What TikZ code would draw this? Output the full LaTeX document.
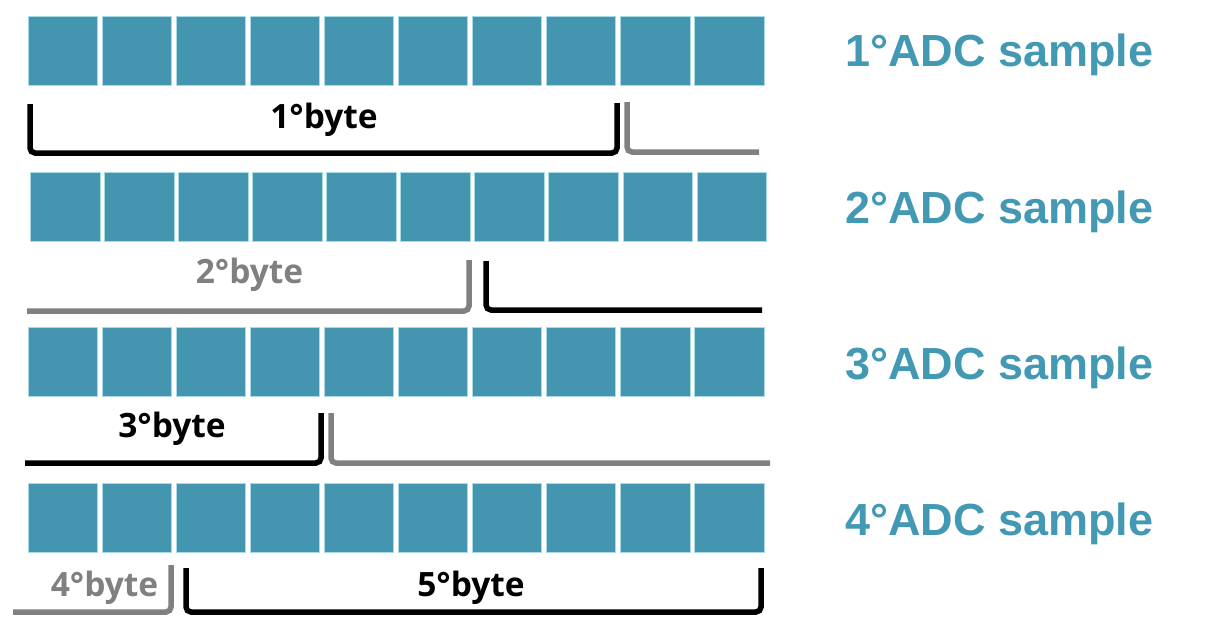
\documentclass[tikz,border=0pt]{standalone}
\usepackage{fontspec}
\setmainfont{Open Sans}
\newfontfamily\adcfont{Liberation Sans}
\definecolor{cellblue}{RGB}{67,149,176}
\definecolor{celledge}{RGB}{170,218,230}
\definecolor{adcblue}{RGB}{67,153,179}
\definecolor{brgray}{RGB}{128,128,128}
\tikzset{
  cell/.style={fill=cellblue,draw=celledge,line width=0.8pt},
  brk/.style={line width=5.5pt,rounded corners=5pt,line cap=butt},
  blk/.style={brk,draw=black},
  gry/.style={brk,draw=brgray},
  bytelbl/.style={anchor=base,inner sep=0pt,font=\fontsize{33.5}{38}\selectfont\bfseries},
  adclbl/.style={anchor=base,inner sep=0pt,text=adcblue,font=\adcfont\fontsize{45}{52}\selectfont\bfseries}
}
\begin{document}
\begin{tikzpicture}[x=1pt,y=-1pt]
\useasboundingbox (0,0) rectangle (1220,630);
% cell rows
\foreach \r/\xo/\yo in {1/28/16.5, 2/30.5/172, 3/28/327.5, 4/28/483.5}{
  \foreach \i in {0,...,9}{
    \path[cell] (\xo+\i*74.05,\yo) rectangle ++(69.5,69) node (c\r\i) {};
  }
}
% ADC labels
\node[adclbl] (a1) at (999.5,66) {1°ADC sample};
\node[adclbl] (a2) at (999.5,223) {2°ADC sample};
\node[adclbl] (a3) at (999.5,379) {3°ADC sample};
\node[adclbl] (a4) at (999.5,535) {4°ADC sample};
% brackets
\draw[blk] (30,104) -- (30,153) -- (617,153) -- (617,103);
\draw[gry] (627,102) -- (627,152) -- (759,152);
\draw[gry] (27,311) -- (469,311) -- (469,260);
\draw[blk] (486,261) -- (486,310) -- (762,310);
\draw[blk] (25,463) -- (321,463) -- (321,413);
\draw[gry] (331,413) -- (331,463) -- (770,463);
\draw[gry] (13,612) -- (171,612) -- (171,565);
\draw[blk] (186,568) -- (186,612) -- (761,612) -- (761,568);
% byte labels
\node[bytelbl] (b1) at (324,128) {1°byte};
\node[bytelbl,text=brgray] (b2) at (249.5,283) {2°byte};
\node[bytelbl] (b3) at (172,437) {3°byte};
\node[bytelbl,text=brgray] (b4) at (104.5,596) {4°byte};
\node[bytelbl] (b5) at (471,596) {5°byte};
\end{tikzpicture}
\end{document}
